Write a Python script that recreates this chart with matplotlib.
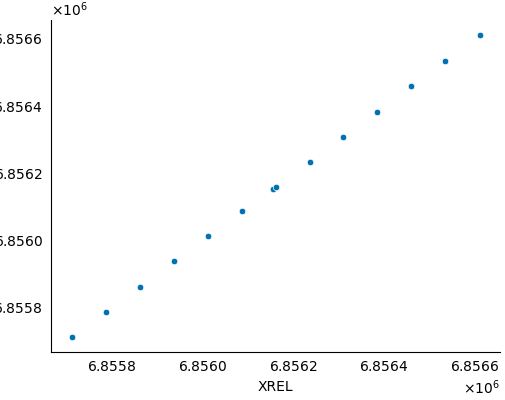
import matplotlib
matplotlib.use("Agg")
import matplotlib.pyplot as plt

# values
xrel = [6855712, 6855789, 6855864, 6855938, 6856013, 6856088, 6856156,
        6856163, 6856237, 6856311, 6856386, 6856460, 6856535, 6856611]
yrel = [6855714, 6855787, 6855862, 6855939, 6856014, 6856088, 6856154,
        6856161, 6856234, 6856309, 6856383, 6856460, 6856535, 6856611]

fig = plt.figure(figsize=(5.06, 4.0), dpi=100)
ax = fig.add_axes([0.101, 0.12, 0.887, 0.83])

ax.scatter(xrel, yrel, s=22, color="#0072B2", edgecolor="white", linewidth=0.5, zorder=3)

ax.set_xlabel("XREL", fontsize=10)
ax.spines["top"].set_visible(False)
ax.spines["right"].set_visible(False)
ax.tick_params(length=0, labelsize=10, pad=6)
ax.ticklabel_format(useOffset=False, useMathText=True)

fig.savefig("out.png", dpi=100)
